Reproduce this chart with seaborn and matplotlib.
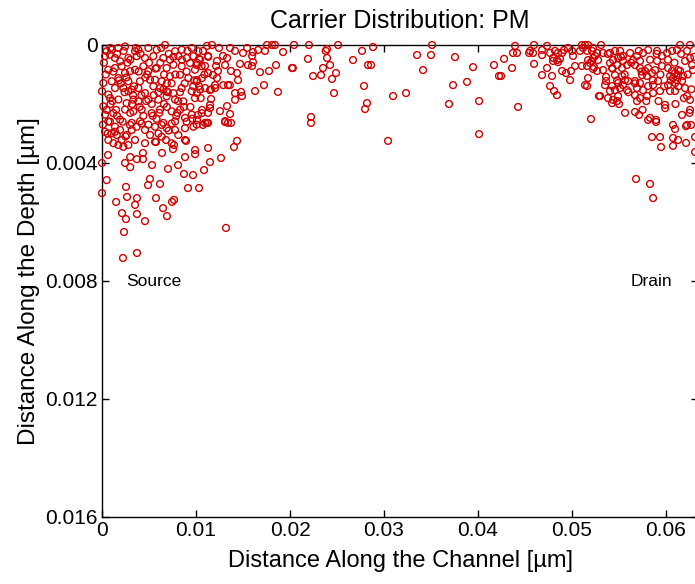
import matplotlib
matplotlib.use("Agg")
import matplotlib.pyplot as plt
import numpy as np
import pandas as pd
import seaborn as sns

# ---- data (positions in nanometres, converted to micrometres for plotting) ----
left_x_nm = [
    0.50, 1.03, 1.74, 2.45, 3.51, 3.87, 4.93, 5.82, 6.70, 7.77, 8.48, 9.54, 10.25,
    0.32, 0.85, 1.38, 1.92, 2.80, 3.69, 4.57, 5.46, 6.52, 7.23, 8.12, 9.01, 9.72, 10.43,
    0.67, 1.38, 2.09, 2.98, 3.51, 4.40, 4.93, 5.82, 6.88, 7.59, 8.48, 9.36, 9.89, 10.60,
    0.14, 1.03, 1.74, 2.45, 2.80, 4.04, 5.11, 5.64, 6.35, 7.23, 8.30, 9.18, 10.07,
    0.00, 0.67, 1.38, 2.27, 2.80, 3.16, 3.87, 4.57, 5.46, 6.17, 6.52, 6.88, 7.59, 8.48, 9.54, 10.43,
    0.14, 0.85, 1.74, 2.62, 3.33, 3.87, 4.93, 5.99, 6.88, 7.77, 8.65, 9.89,
    0.32, 1.21, 2.45, 3.33, 4.22, 5.28, 6.17, 7.41, 8.30, 9.54, 10.60,
    0.67, 1.92, 3.16, 4.04, 4.93, 6.52, 7.77, 8.83, 10.07,
    0.85, 1.38, 1.92, 1.56, 1.03, 0.67, 1.21, 2.09, 2.62, 3.16, 2.98, 3.69, 4.22, 4.57,
    5.11, 5.64, 6.35, 6.88, 7.41, 7.77, 8.12, 8.83, 9.72, 8.83, 7.41, 6.35, 5.64, 4.57,
    3.51, 2.80, 2.27, 1.74, 1.38, 0.32,
    0.2, 0.4, 0.9, 1.2, 1.6, 2.0, 2.3, 2.6, 3.0, 3.3, 3.6, 3.9, 4.2, 4.6, 5.0, 5.3, 5.7,
    6.0, 6.3, 6.6, 6.9, 7.1, 7.4, 7.8, 8.1, 8.5, 8.8, 9.1, 9.4, 9.8, 10.1, 10.5, 10.9,
    11.3, 11.6, 1.1, 1.5, 2.2, 3.0, 4.4, 5.8, 6.6, 7.1, 8.0, 9.0, 0.5, 0.1, 0.6, 2.5, 6.0,
    0.64, 0.0, 0.5, 0.0, 2.55, 1.5, 2.66, 3.72, 3.51, 2.13, 2.55, 3.72, 4.57, 2.34, 2.23,
    3.72, 5.74, 6.49, 6.91, 7.45, 7.66, 4.9, 5.1, 6.17, 5.32, 7.02, 8.09, 8.72, 9.68, 9.15,
    10.32, 10.85, 8.83, 9.9, 9.9, 3.0, 2.45, 3.0, 3.7, 4.36, 4.36, 6.38, 7.55, 7.66, 8.94,
    6.8, 5.74,
    11.28, 11.49, 12.66, 14.04, 14.36, 13.19, 13.09, 13.72, 10.74, 11.17,
    1.8, 2.7, 3.4, 4.1, 4.8, 5.5, 6.2, 6.9, 7.6, 8.3, 9.0, 9.7,
    0.9, 1.6, 2.4, 3.2, 4.0, 4.7, 5.4, 6.1, 7.0, 7.9, 8.7, 9.6,
]
left_y_nm = [
    0.21, 0.16, 0.10, 0.05, 0.21, 0.16, 0.10, 0.16, 0.00, 0.21, 0.16, 0.10, 0.21,
    0.38, 0.33, 0.44, 0.55, 0.44, 0.38, 0.44, 0.38, 0.44, 0.50, 0.38, 0.44, 0.38, 0.50,
    0.84, 0.78, 0.72, 0.89, 0.84, 0.72, 0.89, 0.78, 0.78, 0.67, 0.72, 0.61, 0.84, 0.72,
    1.29, 1.23, 1.12, 0.95, 1.23, 1.23, 1.18, 1.18, 1.23, 1.06, 1.01, 1.12, 1.23,
    1.57, 1.68, 1.46, 1.46, 1.57, 1.51, 1.46, 1.63, 1.40, 1.46, 1.51, 1.57, 1.63, 1.46, 1.57, 1.51,
    2.08, 1.80, 1.85, 1.97, 1.85, 1.91, 1.85, 1.85, 1.74, 1.85, 1.91, 1.80,
    2.36, 2.31, 2.19, 2.25, 2.19, 2.31, 2.19, 2.25, 2.19, 2.36, 2.31,
    2.59, 2.53, 2.64, 2.59, 2.70, 2.64, 2.59, 2.47, 2.70,
    2.60, 2.77, 2.88, 3.05, 2.99, 3.22, 3.33, 3.22, 3.05, 2.88, 2.71, 2.77, 2.66, 2.88,
    3.05, 2.77, 2.71, 2.82, 2.66, 2.88, 3.05, 2.82, 2.77, 3.22, 3.33, 3.11, 3.28, 3.33,
    3.22, 3.39, 3.45, 3.39, 2.94, 2.94,
    0.6, 1.0, 0.1, 0.9, 0.3, 1.3, 0.2, 1.1, 0.5, 1.7, 0.1, 0.9, 1.7, 1.1, 0.6, 2.0, 0.8,
    1.6, 0.1, 1.0, 2.1, 0.3, 1.3, 1.0, 1.9, 0.5, 1.3, 0.2, 2.1, 1.2, 0.6, 1.8, 1.0,
    0.4, 1.5, 1.9, 2.2, 2.6, 2.3, 2.4, 2.5, 2.0, 2.9, 2.3, 2.6, 2.2, 2.7, 3.0, 3.1, 3.0,
    3.73, 4.0, 4.58, 5.02, 4.81, 5.32, 5.15, 5.19, 5.42, 5.7, 5.9, 5.73, 5.97, 6.34, 7.22,
    7.05, 5.19, 5.53, 5.8, 5.32, 5.25, 4.75, 4.54, 4.71, 4.07, 4.2, 4.07, 4.37, 4.41, 4.85,
    4.85, 4.24, 3.8, 3.56, 3.7, 3.8, 4.0, 4.14, 3.87, 3.87, 3.66, 3.66, 3.53, 3.39, 3.25,
    3.22, 3.29,
    3.49, 3.97, 3.83, 3.46, 3.25, 6.2, 2.61, 2.64, 2.71, 2.64,
    1.2, 0.6, 1.4, 0.3, 1.0, 1.7, 0.6, 1.3, 0.4, 1.6, 0.9, 1.4,
    2.0, 2.4, 1.6, 2.0, 2.1, 1.9, 2.4, 2.3, 1.6, 2.4, 2.1, 2.5,
]

mid_x_nm = [
    20.43, 18.72, 17.23, 16.28, 18.51, 17.77, 16.81, 20.21, 20.3, 19.26, 18.4, 18.1, 17.55,
    17.34, 16.6, 16.06, 15.96, 16.06, 15.53, 15.96, 14.68, 15.0, 15.43, 14.15, 13.62, 12.87,
    13.3, 13.09, 13.72, 14.36, 14.47, 13.4, 12.9, 13.6, 12.02, 12.23, 12.34, 12.13, 12.23,
    12.45, 11.7, 11.17, 10.74, 11.28, 10.32, 10.1, 10.96, 11.28, 11.81, 10.64, 10.1, 10.32,
    10.96, 11.49, 12.02, 10.1, 14.15, 14.79, 14.89, 14.15, 11.6, 11.49, 11.49, 11.28, 10.64,
    10.21, 12.55, 13.3, 13.62, 13.09, 13.4, 11.28, 10.96, 10.1,
    22.02, 23.94, 23.8, 25.11, 21.91, 23.94, 24.26, 23.51, 22.45, 23.3, 24.89, 24.47, 24.68,
    27.66, 26.7, 28.83, 28.3, 28.62, 27.87, 28.19, 27.98, 30.96, 32.34, 22.23, 22.23, 30.43,
    33.51, 34.15, 35.11, 35.0, 37.55, 39.47, 41.7, 42.23, 38.83, 37.34, 36.91, 40.11, 40.11,
    43.94, 43.72, 44.15, 42.77, 43.62, 42.45, 44.26, 45.96, 45.53, 45.85, 45.43, 45.96, 46.81,
    47.34, 46.81, 47.66, 48.19, 48.51, 48.94, 47.98, 48.4, 47.98, 48.72, 48.51, 47.34, 46.81,
    47.87, 47.66, 48.09, 48.4, 48.94, 49.36, 49.89, 49.79, 49.15, 49.57, 50.0, 50.1, 50.32,
    51.06, 51.38, 51.7, 51.17, 50.85, 51.6, 52.23, 52.66, 51.7, 51.91, 52.23, 51.06, 51.6,
    52.23, 51.7, 51.38, 51.6, 52.87, 52.02, 52.66,
]
mid_y_nm = [
    0.0, 1.59, 1.36, 1.56, 0.68, 0.88, 0.92, 0.78, 0.78, 0.24, 0.0, 0.0, 0.0,
    0.2, 0.17, 0.24, 0.37, 0.58, 0.68, 0.71, 0.64, 0.27, 0.1, 0.2, 0.1, 0.37,
    0.44, 0.68, 0.88, 0.95, 1.19, 1.36, 1.36, 1.36, 1.36, 1.12, 0.88, 0.71, 0.54,
    0.1, 0.0, 0.03, 0.2, 0.37, 0.47, 0.68, 0.71, 0.95, 1.02, 1.12, 1.19, 1.39,
    1.46, 1.53, 1.46, 1.63, 1.63, 1.59, 1.73, 1.86, 1.83, 2.03, 2.14, 2.3, 2.2,
    2.37, 2.24, 2.07, 2.34, 2.58, 2.64, 2.64, 2.64, 2.54,
    0.0, 0.14, 0.2, 0.0, 0.47, 0.44, 0.68, 0.78, 1.05, 1.02, 0.95, 1.15, 1.63,
    0.2, 0.51, 0.07, 0.68, 0.68, 1.39, 1.97, 2.17, 1.73, 1.63, 2.44, 2.64, 3.25,
    0.34, 0.85, 0.0, 0.34, 0.41, 0.75, 0.68, 1.05, 1.25, 1.36, 2.0, 1.9, 3.02,
    0.03, 0.27, 0.27, 0.47, 0.78, 1.05, 2.1, 0.0, 0.2, 0.27, 0.27, 0.64, 0.34,
    0.03, 0.17, 0.27, 0.2, 0.27, 0.27, 0.44, 0.51, 0.54, 0.47, 0.58, 0.78, 1.02,
    1.05, 1.39, 1.56, 1.7, 0.88, 0.95, 0.88, 1.19, 0.17, 0.1, 0.2, 0.37, 0.71,
    0.0, 0.0, 0.0, 0.1, 0.2, 0.2, 0.1, 0.27, 0.51, 0.61, 0.44, 0.71, 0.71,
    0.81, 1.12, 1.36, 1.39, 1.73, 2.51, 0.88,
]

right_x_nm = [
    53.09, 52.13, 52.45, 52.13, 52.77, 53.3, 53.3, 52.34, 53.62, 53.62, 53.51, 52.98,
    54.04, 54.57, 55.11, 55.43, 54.9, 54.36, 54.04, 54.26, 54.79, 55.32, 55.85, 55.43,
    54.57, 55.32, 55.64, 54.9, 54.26, 54.04, 54.57, 55.11, 55.43, 55.85, 53.83, 54.36,
    54.9, 54.26, 54.79, 55.64, 56.7, 57.13, 58.3, 58.94, 56.17, 56.91, 56.49, 57.23,
    56.7, 57.55, 58.09, 57.23, 57.77, 57.45, 57.98, 58.51, 58.09, 55.96, 56.7, 57.23,
    56.91, 57.55, 58.09, 58.62, 59.15, 56.7, 57.23, 57.98, 56.91, 58.62, 59.36, 59.9,
    59.9, 59.04, 59.57, 59.04, 59.57, 58.83, 60.1, 60.64, 61.17, 60.64, 60.96, 61.28,
    60.74, 61.17, 61.49, 60.43, 60.96, 61.7, 60.21, 61.81, 61.28, 60.43, 60.96, 62.23,
    62.55, 62.02, 60.21, 61.7, 62.55, 62.23, 62.23, 62.55, 62.77, 62.02, 62.87, 61.49, 62.55,
    58.51, 59.36, 59.47, 60.74, 60.96, 62.13, 62.66, 60.74, 61.28, 60.74, 62.13, 63.09,
    63.09, 56.81, 58.3, 58.62, 58.09, 58.94,
    53.8, 54.3, 54.8, 55.2, 55.6, 56.0, 56.3, 56.7, 57.1, 57.4, 57.9, 58.3, 58.6, 59.0,
    59.4, 59.8, 60.2, 60.5, 60.9, 61.3, 61.6, 61.9, 62.3, 62.7, 63.0, 55.0, 57.5, 59.2,
    61.0, 62.5,
]
right_y_nm = [
    0.0, 0.2, 0.37, 0.54, 0.51, 0.27, 0.85, 0.75, 1.08, 1.22, 1.36, 1.73,
    0.27, 0.2, 0.2, 0.37, 0.44, 0.51, 0.61, 0.78, 0.68, 0.78, 0.68, 0.54,
    1.02, 1.05, 1.19, 1.29, 1.39, 1.56, 1.53, 1.46, 1.36, 1.53, 1.8, 1.86,
    1.73, 1.97, 1.9, 2.3, 2.27, 2.37, 2.47, 2.54, 0.27, 0.37, 0.51, 0.54,
    0.68, 0.27, 0.17, 0.78, 0.88, 1.02, 1.05, 0.95, 0.78, 1.22, 1.22, 1.29,
    1.46, 1.53, 1.39, 1.36, 1.22, 1.7, 1.8, 1.73, 1.9, 1.63, 1.56, 2.03,
    2.14, 0.2, 0.37, 0.54, 0.71, 0.85, 0.27, 0.2, 0.17, 0.88, 0.95, 1.02,
    1.12, 1.19, 0.88, 1.05, 1.29, 1.22, 0.78, 1.05, 0.85, 1.56, 1.56, 1.73,
    1.86, 1.46, 1.36, 2.37, 2.2, 2.71, 0.2, 0.44, 0.68, 0.54, 0.85, 0.0, 0.0,
    3.12, 3.12, 3.46, 2.71, 2.85, 2.75, 2.71, 3.15, 3.22, 3.42, 3.32, 3.12,
    3.63, 4.54, 4.71, 5.19, 2.54, 2.61,
    0.3, 0.8, 1.2, 0.4, 1.0, 1.6, 0.6, 1.3, 0.2, 0.9, 1.9, 0.5, 1.2, 0.3,
    1.0, 1.4, 0.5, 1.2, 0.6, 1.4, 0.3, 1.8, 1.0, 1.5, 0.4, 2.0, 2.2, 1.9,
    2.0, 2.3,
]

x_ticks = [0, 0.01, 0.02, 0.03, 0.04, 0.05, 0.06]
y_ticks = [0, 0.004, 0.008, 0.012, 0.016]
x_tick_labels = ["0", "0.01", "0.02", "0.03", "0.04", "0.05", "0.06"]
y_tick_labels = ["0", "0.004", "0.008", "0.012", "0.016"]
annotations = [("Source", 0.0026, 0.0080), ("Drain", 0.0562, 0.0080)]

# ---- build table ----
xs = np.array(left_x_nm + mid_x_nm + right_x_nm) / 1000.0
ys = np.array(left_y_nm + mid_y_nm + right_y_nm) / 1000.0
df = pd.DataFrame({"x": xs, "y": ys})

sns.set_style("ticks")
plt.rcParams["font.family"] = ["Liberation Sans", "DejaVu Sans"]
plt.rcParams["text.color"] = "black"
plt.rcParams["axes.labelcolor"] = "black"
plt.rcParams["xtick.color"] = "black"
plt.rcParams["ytick.color"] = "black"

W, H = 695, 584
fig = plt.figure(figsize=(W / 100, H / 100), dpi=100)
left_px, right_px, top_px, bottom_px = 102, 698, 45, 517
ax = fig.add_axes([left_px / W, 1 - bottom_px / H,
                   (right_px - left_px) / W, (bottom_px - top_px) / H])

sns.scatterplot(data=df, x="x", y="y", ax=ax, marker="o", s=24,
                facecolors="none", edgecolor="#d00000", linewidth=1.0,
                clip_on=False, legend=False, zorder=3)

ax.set_xlim(0, 0.0634)
ax.set_ylim(0.016, 0)
ax.set_xticks(x_ticks)
ax.set_xticklabels(x_tick_labels)
ax.set_yticks(y_ticks)
ax.set_yticklabels(y_tick_labels)
ax.tick_params(direction="in", length=5, width=1, top=True, right=True,
               labelsize=15, colors="black", pad=3)
for sp in ax.spines.values():
    sp.set_linewidth(1.0)
    sp.set_color("black")

ax.set_xlabel("Distance Along the Channel [\u00b5m]", fontsize=17, labelpad=7)
ax.set_ylabel("Distance Along the Depth [\u00b5m]", fontsize=17.5, labelpad=4)
ax.set_title("Carrier Distribution: PM", fontsize=18, pad=12)

for txt, tx, ty in annotations:
    ax.text(tx, ty, txt, fontsize=12.5, va="center", ha="left", color="black")

fig.savefig("out.png", dpi=100)
